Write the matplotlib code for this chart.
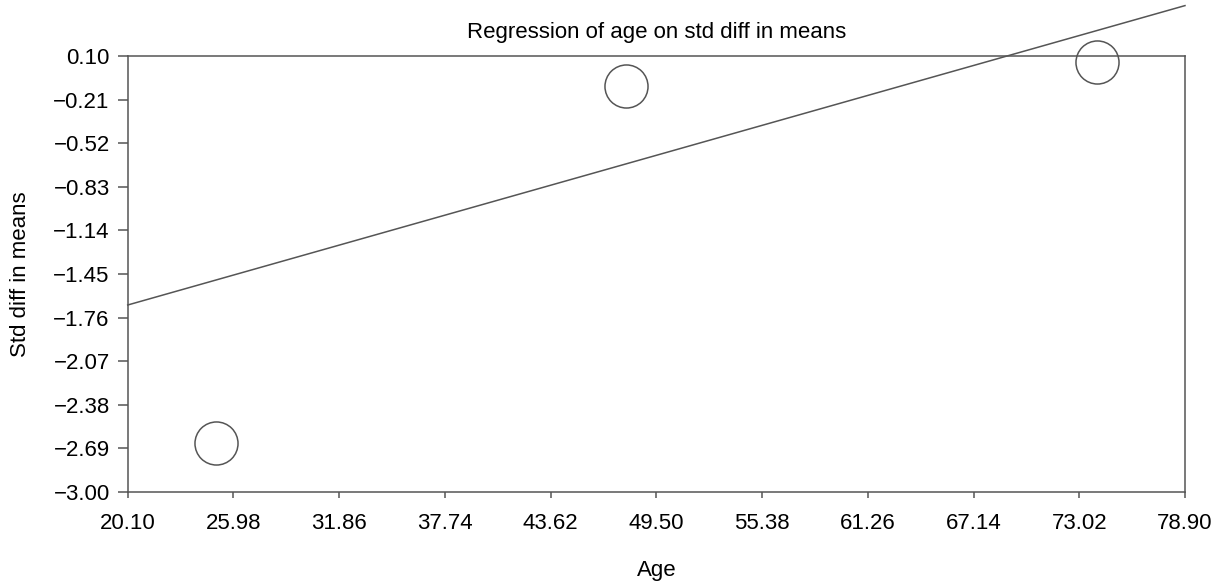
import numpy as np
import matplotlib.pyplot as plt

plt.rcParams['font.family'] = ['Liberation Sans', 'DejaVu Sans']

# study points (age vs std diff in means)
age = [25.0, 47.8, 74.0]
std_diff = [-2.65, -0.11, 0.055]

# fitted regression line
slope = 0.0362
intercept = -2.398

xticks = [20.10, 25.98, 31.86, 37.74, 43.62, 49.50, 55.38, 61.26, 67.14, 73.02, 78.90]
yticks = [0.10, -0.21, -0.52, -0.83, -1.14, -1.45, -1.76, -2.07, -2.38, -2.69, -3.00]

fig = plt.figure(figsize=(12.2, 5.82), dpi=100)
ax = fig.add_axes([0.1047, 0.1546, 0.8666, 0.7492])

gray = '#555555'
xx = np.array([xticks[0], xticks[-1]])
ax.plot(xx, intercept + slope * xx, color=gray, lw=1.1, clip_on=False)
ax.plot(age, std_diff, 'o', ms=31, mfc='none', mec=gray, mew=1.1, clip_on=False)

ax.set_xlim(xticks[0], xticks[-1])
ax.set_ylim(yticks[-1], yticks[0])
ax.set_xticks(xticks)
ax.set_yticks(yticks)
ax.set_xticklabels([f'{v:.2f}' for v in xticks])
ax.set_yticklabels([f'{v:.2f}'.replace('-', '\u2212') for v in yticks])

for s in ax.spines.values():
    s.set_color(gray)
    s.set_linewidth(1.1)
ax.tick_params(axis='y', length=7, width=1.1, color=gray, pad=6, labelsize=16)
ax.tick_params(axis='x', length=4, width=1.1, color=gray, pad=11, labelsize=16)

ax.set_title('Regression of age on std diff in means', fontsize=16, pad=13)
ax.set_xlabel('Age', fontsize=16, labelpad=19)
ax.set_ylabel('Std diff in means', fontsize=16, labelpad=16)

fig.savefig('out.png', dpi=100)
